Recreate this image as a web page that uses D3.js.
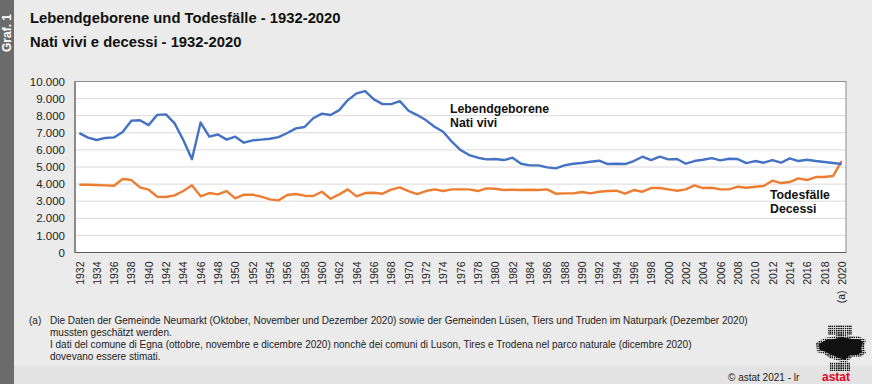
<!DOCTYPE html>
<html><head><meta charset="utf-8">
<script src="https://cdn.jsdelivr.net/npm/d3@7"></script>
<style>
html,body{margin:0;padding:0;background:#ebebeb;}
svg{display:block;font-family:"Liberation Sans",Arial,sans-serif;}
</style></head>
<body>
<svg id="c" width="872" height="384"></svg>
<script>
const years = d3.range(1932, 2021);
const births = [6980,6715,6580,6700,6730,7050,7710,7730,7450,8050,
8080,7550,6580,5450,7600,6780,6900,6600,6770,6420,
6560,6600,6650,6750,6990,7260,7340,7850,8120,8040,
8328,8913,9303,9439,8952,8679,8679,8854,8290,8036,
7744,7354,7062,6478,5991,5698,5543,5445,5465,5406,
5543,5192,5095,5095,4978,4919,5095,5192,5231,5309,
5367,5172,5192,5172,5348,5601,5406,5601,5445,5465,
5192,5348,5426,5523,5387,5484,5465,5231,5348,5250,
5406,5250,5504,5348,5426,5348,5289,5231,5172];
const deaths = [3965,3965,3945,3926,3906,4296,4237,3809,3672,3263,
3244,3341,3594,3926,3283,3478,3400,3594,3166,3380,
3380,3263,3107,3049,3361,3419,3322,3302,3555,3146,
3400,3692,3283,3478,3497,3439,3672,3809,3594,3419,
3594,3692,3594,3692,3692,3692,3594,3750,3731,3653,
3672,3653,3672,3653,3692,3439,3458,3458,3536,3458,
3555,3594,3614,3439,3653,3555,3770,3770,3692,3614,
3692,3926,3770,3789,3692,3692,3848,3789,3848,3887,
4198,4062,4120,4335,4237,4413,4413,4471,5348];
const yTicks = [0,1000,2000,3000,4000,5000,6000,7000,8000,9000,10000];
const xTickYears = years.filter(y => (y - 1932) % 2 === 0);
const seriesNames = ["Lebendgeborene","Nati vivi"];
const seriesNames2 = ["Todesfälle","Decessi"];
const titles = ["Lebendgeborene und Todesfälle - 1932-2020","Nati vivi e decessi - 1932-2020"];
const notes = [
 "Die Daten der Gemeinde Neumarkt (Oktober, November und Dezember 2020) sowie der Gemeinden Lüsen, Tiers und Truden im Naturpark (Dezember 2020)",
 "mussten geschätzt werden.",
 "I dati del comune di Egna (ottobre, novembre e dicembre 2020) nonchè dei comuni di Luson, Tires e Trodena nel parco naturale (dicembre 2020)",
 "dovevano essere stimati."
];

const svg = d3.select("#c");
const L=75, R=846, T=81.5, B=252.5;
const x = d3.scalePoint().domain(years).range([L,R]).padding(0.5);
const y = d3.scaleLinear().domain([0,10000]).range([B,T]);
const loc = d3.formatLocale({decimal:",",thousands:".",grouping:[3],currency:["",""]});
const fmt = loc.format(",d");

// background
svg.append("rect").attr("width",872).attr("height",384).attr("fill","#ebebeb");
svg.append("rect").attr("x",0).attr("y",0).attr("width",14).attr("height",384).attr("fill","#6b6b6b");
svg.append("text").attr("transform","translate(11,52) rotate(-90)")
  .attr("fill","#fff").attr("font-weight","bold").attr("font-size",12).text("Graf. 1");

// titles
svg.append("text").attr("x",30).attr("y",23).attr("font-weight","bold").attr("font-size",14.8).attr("fill","#111").text(titles[0]);
svg.append("text").attr("x",30).attr("y",47).attr("font-weight","bold").attr("font-size",14.8).attr("fill","#111").text(titles[1]);

// plot area
svg.append("rect").attr("x",L).attr("y",T).attr("width",R-L).attr("height",B-T).attr("fill","#fff");
svg.append("g").selectAll("line").data(yTicks.filter(d=>d>0)).join("line")
  .attr("x1",L).attr("x2",R).attr("y1",d=>y(d)).attr("y2",d=>y(d))
  .attr("stroke","#d9d9d9").attr("stroke-width",1);
svg.append("rect").attr("x",L).attr("y",T).attr("width",R-L).attr("height",B-T)
  .attr("fill","none").attr("stroke","#8c8c8c").attr("stroke-width",1);
svg.append("line").attr("x1",L).attr("x2",L).attr("y1",T).attr("y2",B).attr("stroke","#595959");
svg.append("line").attr("x1",L).attr("x2",R).attr("y1",B).attr("y2",B).attr("stroke","#595959");

// y axis
const yAxis = d3.axisLeft(y).tickValues(yTicks).tickFormat(fmt).tickSize(0).tickPadding(10);
const gy = svg.append("g").attr("transform",`translate(${L},0)`).call(yAxis);
gy.select(".domain").remove();
gy.selectAll("text").attr("font-size",11.5).attr("fill","#222").attr("font-family","Liberation Sans, Arial, sans-serif");

// x axis
const xAxis = d3.axisBottom(x).tickValues(xTickYears).tickSize(0).tickPadding(0);
const gx = svg.append("g").attr("transform",`translate(0,${B})`).call(xAxis);
gx.select(".domain").remove();
gx.selectAll("text").attr("font-size",10.5).attr("fill","#222").attr("font-family","Liberation Sans, Arial, sans-serif")
  .attr("transform","rotate(-90)").attr("text-anchor","end").attr("dy","0.35em").attr("x",-9).attr("y",0);
svg.append("text").attr("transform",`translate(${x(2020)},${B+38}) rotate(-90)`).attr("text-anchor","end")
  .attr("dy","0.35em").attr("font-size",10.5).attr("fill","#222").text("(a)");

// lines
const line = d3.line().x((d,i)=>x(years[i])).y(d=>y(d));
svg.append("path").datum(deaths).attr("d",line).attr("fill","none").attr("stroke","#ED7D31").attr("stroke-width",2.4).attr("stroke-linejoin","round");
svg.append("path").datum(births).attr("d",line).attr("fill","none").attr("stroke","#4472C4").attr("stroke-width",2.4).attr("stroke-linejoin","round");

// labels
const lab = svg.append("g").attr("font-weight","bold").attr("font-size",12.3).attr("fill","#111");
lab.append("text").attr("x",450).attr("y",113).text(seriesNames[0]);
lab.append("text").attr("x",450).attr("y",127).text(seriesNames[1]);
lab.append("text").attr("x",770).attr("y",199).text(seriesNames2[0]);
lab.append("text").attr("x",770).attr("y",213).text(seriesNames2[1]);

// footnote
const fn = svg.append("g").attr("font-size",10).attr("fill","#222").attr("font-family","Liberation Sans Narrow, Liberation Sans, Arial, sans-serif");
fn.append("text").attr("x",29).attr("y",324).text("(a)");
const ny=[324,336,348,360];
notes.forEach((t,i)=>fn.append("text").attr("x",50).attr("y",ny[i]).text(t));

// footer
svg.append("rect").attr("x",14).attr("y",366).attr("width",858).attr("height",18).attr("fill","#e3e3e3");
svg.append("text").attr("x",728).attr("y",381).attr("font-size",10).attr("fill","#222").text("©  astat 2021 - lr");
svg.append("text").attr("x",822).attr("y",381).attr("font-size",12).attr("font-weight","bold").attr("fill","#e3001b").text("astat");
// logo (simplified dotted map shape)
const defs = svg.append("defs");
const pat = defs.append("pattern").attr("id","dots").attr("width",2.2).attr("height",2.2).attr("patternUnits","userSpaceOnUse");
pat.append("rect").attr("width",1.5).attr("height",1.5).attr("fill","#111");
const lg = svg.append("g");
lg.append("rect").attr("x",828).attr("y",325).attr("width",24).attr("height",10).attr("fill","url(#dots)");
lg.append("rect").attr("x",830).attr("y",362).attr("width",20).attr("height",9).attr("fill","url(#dots)");
lg.append("path").attr("d","M816,343 L824,338 L832,337 L840,334 L850,336 L858,336 L866,340 L864,347 L866,353 L860,357 L852,357 L846,363 L838,361 L830,358 L824,354 L817,352 Z").attr("fill","url(#dots)");
lg.append("path").attr("d","M819,344 L826,340 L834,339 L842,337 L852,339 L859,339 L863,342 L861,348 L862,352 L857,355 L850,355 L845,360 L839,358 L832,355 L826,352 L820,350 Z").attr("fill","#111");
</script>
</body></html>
